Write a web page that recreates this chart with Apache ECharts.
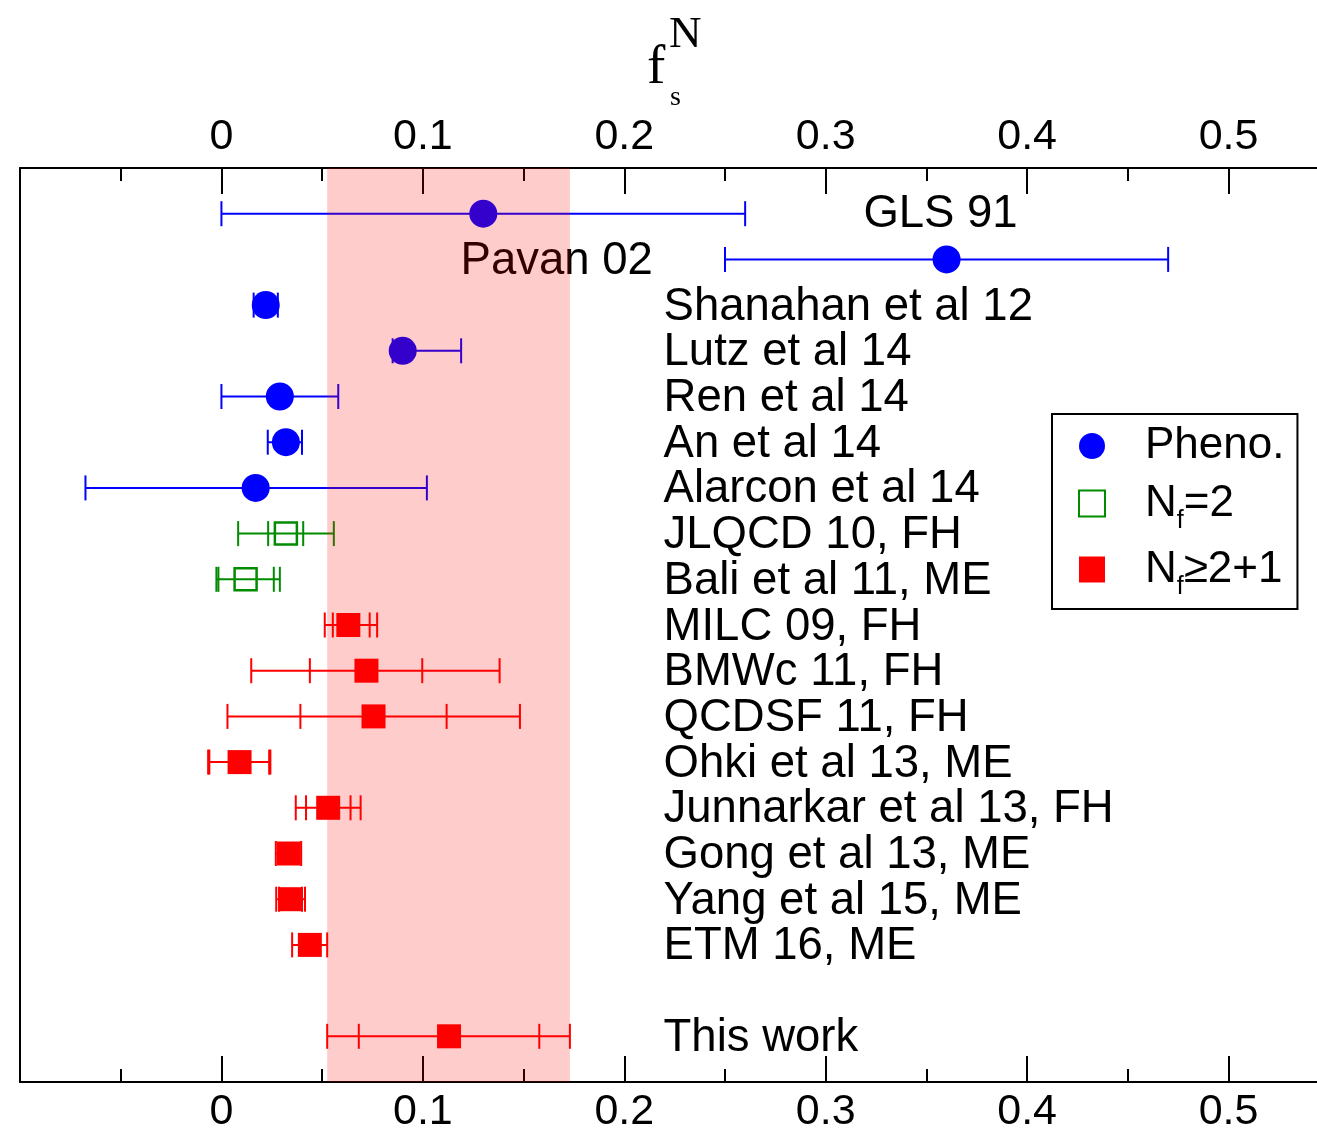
<!DOCTYPE html>
<html>
<head>
<meta charset="utf-8">
<script src="https://cdn.jsdelivr.net/npm/echarts@6/dist/echarts.min.js"></script>
<style>
  html, body { margin: 0; padding: 0; background: #fff; overflow: hidden; }
  #chart { width: 1317px; height: 1134px; }
</style>
</head>
<body>
<div id="chart"></div>
<script>
// rows top to bottom, '' is the empty gap row above "This work"
const categories = ['GLS 91', 'Pavan 02', 'Shanahan et al 12', 'Lutz et al 14', 'Ren et al 14', 'An et al 14',
  'Alarcon et al 14', 'JLQCD 10, FH', 'Bali et al 11, ME', 'MILC 09, FH', 'BMWc 11, FH', 'QCDSF 11, FH',
  'Ohki et al 13, ME', 'Junnarkar et al 13, FH', 'Gong et al 13, ME', 'Yang et al 15, ME', 'ETM 16, ME', '', 'This work'];
const kinds = ['pheno', 'pheno', 'pheno', 'pheno', 'pheno', 'pheno', 'pheno', 'nf2', 'nf2',
  'nf21', 'nf21', 'nf21', 'nf21', 'nf21', 'nf21', 'nf21', 'nf21', null, 'nf21'];
const central = [0.130, 0.360, 0.022, 0.090, 0.029, 0.032, 0.017, 0.032, 0.012,
  0.063, 0.072, 0.0755, 0.009, 0.053, 0.0334, 0.0343, 0.0439, null, 0.113];
// total error range
const totLo = [0.000, 0.250, 0.016, 0.085, 0.000, 0.023, -0.0675, 0.0083, -0.0025,
  0.0513, 0.0148, 0.0030, -0.0066, 0.0369, 0.0270, 0.0272, 0.0351, null, 0.0525];
const totHi = [0.260, 0.470, 0.028, 0.119, 0.058, 0.040, 0.102, 0.0558, 0.0290,
  0.0773, 0.1381, 0.1482, 0.0243, 0.0691, 0.0396, 0.0415, 0.0525, null, 0.1730];
// statistical error range (inner caps), where there is one
const statLo = [null, null, null, null, null, null, null, 0.0232, -0.0015,
  0.0553, 0.0439, 0.0392, -0.0060, 0.0420, null, 0.0286, null, null, 0.0682];
const statHi = [null, null, null, null, null, null, null, 0.0406, 0.0260,
  0.0736, 0.0997, 0.1118, 0.0237, 0.0641, null, 0.0400, null, null, 0.1578];
// "This work" band
const bandRange = [0.0525, 0.1730];
const xTickLabels = ['0', '0.1', '0.2', '0.3', '0.4', '0.5'];

const seriesNames = { pheno: 'Pheno.', nf2: 'Nf=2', nf21: 'Nf≥2+1' };
const colors = { pheno: '#0000ff', nf2: '#008b00', nf21: '#ff0000' };
const CAP = 12.5;
const FONT = '"Liberation Sans", Arial, Helvetica, sans-serif';
// label anchor (x value) and alignment; most labels start at one column
const labelX = 0.2195;
const labelSpecial = { 'GLS 91': [0.3187, 'left', 1], 'Pavan 02': [0.2142, 'right', 2] };

function rowsOf(kind) {
  const out = [];
  categories.forEach((c, i) => {
    if (kinds[i] !== kind) return;
    out.push([central[i], i + 1, totLo[i], totHi[i],
      statLo[i] == null ? NaN : statLo[i], statHi[i] == null ? NaN : statHi[i]]);
  });
  return out;
}

function errRender(kind) {
  const col = colors[kind];
  return function (params, api) {
    const y = api.value(1);
    const p = api.coord([api.value(0), y]);
    const lo = api.coord([api.value(2), y]);
    const hi = api.coord([api.value(3), y]);
    const kids = [{
      type: 'line', shape: { x1: lo[0], y1: p[1], x2: hi[0], y2: p[1] },
      style: { stroke: col, lineWidth: 2 }
    }];
    [2, 3, 4, 5].forEach(k => {
      const v = api.value(k);
      if (v == null || isNaN(v)) return;
      const q = api.coord([v, y]);
      kids.push({
        type: 'line', shape: { x1: q[0], y1: p[1] - CAP, x2: q[0], y2: p[1] + CAP },
        style: { stroke: col, lineWidth: 2 }
      });
    });
    if (kind === 'pheno') {
      kids.push({ type: 'circle', shape: { cx: p[0], cy: p[1], r: 14 }, style: { fill: col } });
    } else if (kind === 'nf2') {
      kids.push({ type: 'rect', shape: { x: p[0] - 11, y: p[1] - 11, width: 22, height: 22 },
        style: { fill: null, stroke: col, lineWidth: 2.5 } });
    } else {
      kids.push({ type: 'rect', shape: { x: p[0] - 12, y: p[1] - 12, width: 24, height: 24 },
        style: { fill: col } });
    }
    return { type: 'group', children: kids };
  };
}

const xAxisBase = {
  type: 'value', min: -0.1, max: 0.6, interval: 0.1,
  axisLine: { show: true, onZero: false, lineStyle: { color: '#000', width: 2 } },
  axisTick: { show: true, inside: true, length: 26, lineStyle: { color: '#000', width: 2 } },
  minorTick: { show: true, splitNumber: 2, length: 13, lineStyle: { color: '#000', width: 2 } },
  splitLine: { show: false },
  minorSplitLine: { show: false },
  axisLabel: {
    color: '#000', fontSize: 43, fontFamily: FONT, margin: 9,
    formatter: v => {
      const s = String(Number(v.toFixed(1)));
      return xTickLabels.indexOf(s) >= 0 ? s : '';
    }
  }
};

const chart = echarts.init(document.getElementById('chart'));
const option = {
  animation: false,
  backgroundColor: '#fff',
  grid: { left: 20, top: 168, width: 1410, height: 914, outerBoundsMode: 'none', containLabel: false },
  xAxis: [
    Object.assign({}, xAxisBase, { position: 'bottom' }),
    Object.assign({}, xAxisBase, { position: 'top' })
  ],
  yAxis: {
    type: 'value', min: 0, max: 20, inverse: true,
    axisLine: { show: true, onZero: false, lineStyle: { color: '#000', width: 2 } },
    axisTick: { show: false }, axisLabel: { show: false }, splitLine: { show: false }
  },
  legend: {
    orient: 'vertical', left: 1052, top: 414,
    padding: [10, 13, 9, 26], itemGap: 5, itemWidth: 26, itemHeight: 26,
    borderColor: '#000', borderWidth: 2, backgroundColor: '#fff',
    selectedMode: false,
    data: [
      { name: 'Pheno.', icon: 'circle', itemStyle: { color: colors.pheno } },
      { name: 'Nf=2', icon: 'rect', itemStyle: { color: 'rgba(0,0,0,0)', borderColor: colors.nf2, borderWidth: 2 } },
      { name: 'Nf≥2+1', icon: 'rect', itemStyle: { color: colors.nf21 } }
    ],
    formatter: name => {
      if (name === 'Pheno.') return '{g|}{t|Pheno.}';
      if (name === 'Nf=2') return '{g|}{t|N}{s|f}{t|=2}';
      return '{g|}{t|N}{s|f}{t|≥2+1}';
    },
    textStyle: {
      color: '#000', fontFamily: FONT, fontSize: 44,
      rich: {
        g: { width: 35 },
        t: { fontSize: 44, fontFamily: FONT, color: '#000', lineHeight: 42 },
        s: { fontSize: 25, fontFamily: FONT, color: '#000', padding: [36, 0, 0, 0], lineHeight: 25 }
      }
    }
  },
  graphic: [
    { type: 'text', x: 647, y: 69, style: { text: 'f', font: '55px "Liberation Serif", serif', fill: '#000', verticalAlign: 'middle' } },
    { type: 'text', x: 669, y: 35, style: { text: 'N', font: '45px "Liberation Serif", serif', fill: '#000', verticalAlign: 'middle' } },
    { type: 'text', x: 670, y: 98, style: { text: 's', font: '28px "Liberation Serif", serif', fill: '#000', verticalAlign: 'middle' } }
  ],
  series: [
    {
      name: 'labels', type: 'custom', z: 2, silent: true,
      data: categories.map((c, i) => [labelX, i + 1]),
      renderItem: (params, api) => {
        const name = categories[params.dataIndex];
        if (!name) return null;
        const sp = labelSpecial[name] || [labelX, 'left', 2];
        const p = api.coord([sp[0], api.value(1)]);
        return {
          type: 'text', x: p[0], y: p[1] + sp[2],
          style: { text: name, font: '45.5px ' + FONT, fill: '#000', align: sp[1], verticalAlign: 'middle' }
        };
      }
    },
    ...['pheno', 'nf2', 'nf21'].map(k => ({
      name: seriesNames[k], type: 'custom', z: 3, silent: true,
      itemStyle: { color: colors[k] },
      encode: { x: 0, y: 1 },
      data: rowsOf(k),
      renderItem: errRender(k)
    })),
    {
      name: 'band', type: 'custom', z: 10, silent: true,
      data: [bandRange],
      renderItem: (params, api) => {
        const a = api.coord([api.value(0), 0]);
        const b = api.coord([api.value(1), 20]);
        return {
          type: 'rect',
          shape: { x: a[0], y: Math.min(a[1], b[1]), width: b[0] - a[0], height: Math.abs(b[1] - a[1]) },
          style: { fill: 'rgba(255,0,0,0.2)' }
        };
      }
    }
  ]
};
chart.setOption(option);
</script>
</body>
</html>
